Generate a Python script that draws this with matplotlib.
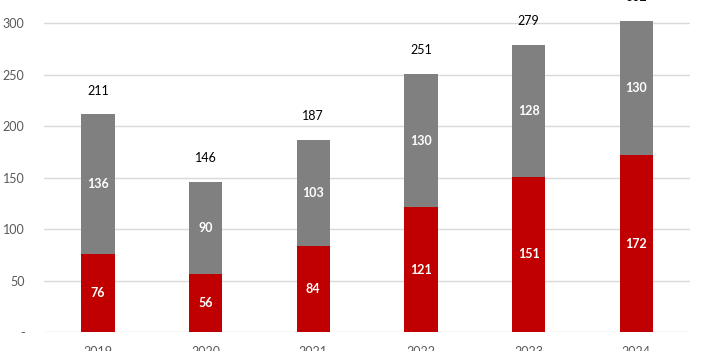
import matplotlib
matplotlib.use("Agg")
import matplotlib.pyplot as plt
import numpy as np

years = ["2019", "2020", "2021", "2022", "2023", "2024"]
red_vals = [76, 56, 84, 121, 151, 172]
grey_vals = [136, 90, 103, 130, 128, 130]
totals = [211, 146, 187, 251, 279, 302]
y_ticks = [0, 50, 100, 150, 200, 250, 300]
y_tick_labels = ["-", "50", "100", "150", "200", "250", "300"]

plt.rcParams['font.family'] = ['Lato', 'DejaVu Sans']

fig = plt.figure(figsize=(7.02, 3.51), dpi=100)
# y range goes a bit past 300 so the tallest bar is not clipped
ax = fig.add_axes([0.0627, 0.054, 0.9203, 0.880 * 305 / 300])

x = np.arange(len(years))
w = 0.31
ax.bar(x, red_vals, w, color="#C00000", zorder=3)
ax.bar(x, grey_vals, w, bottom=red_vals, color="#808080", zorder=3)

for i in range(len(years)):
    ax.text(x[i], red_vals[i] / 2, str(red_vals[i]), ha="center", va="center",
            color="white", fontsize=9, fontweight="bold", zorder=4)
    ax.text(x[i], red_vals[i] + grey_vals[i] / 2, str(grey_vals[i]), ha="center",
            va="center", color="white", fontsize=9, fontweight="bold", zorder=4)
    ax.text(x[i], totals[i] + 23, str(totals[i]), ha="center", va="center",
            color="black", fontsize=9, clip_on=False, zorder=4)

ax.set_xlim(-0.5, len(years) - 0.5)
ax.set_ylim(0, 305)
ax.set_yticks(y_ticks)
ax.set_yticklabels(y_tick_labels)
ax.set_xticks(x)
ax.set_xticklabels(years)
ax.tick_params(axis="both", length=0, labelsize=9, colors="#595959")
ax.tick_params(axis="x", pad=10)
ax.tick_params(axis="y", pad=14)
for lbl in ax.get_yticklabels():
    lbl.set_horizontalalignment("right")

ax.grid(axis="y", color="#D9D9D9", linewidth=1, zorder=0)
for s in ax.spines.values():
    s.set_visible(False)

fig.savefig("out.png", dpi=100)
